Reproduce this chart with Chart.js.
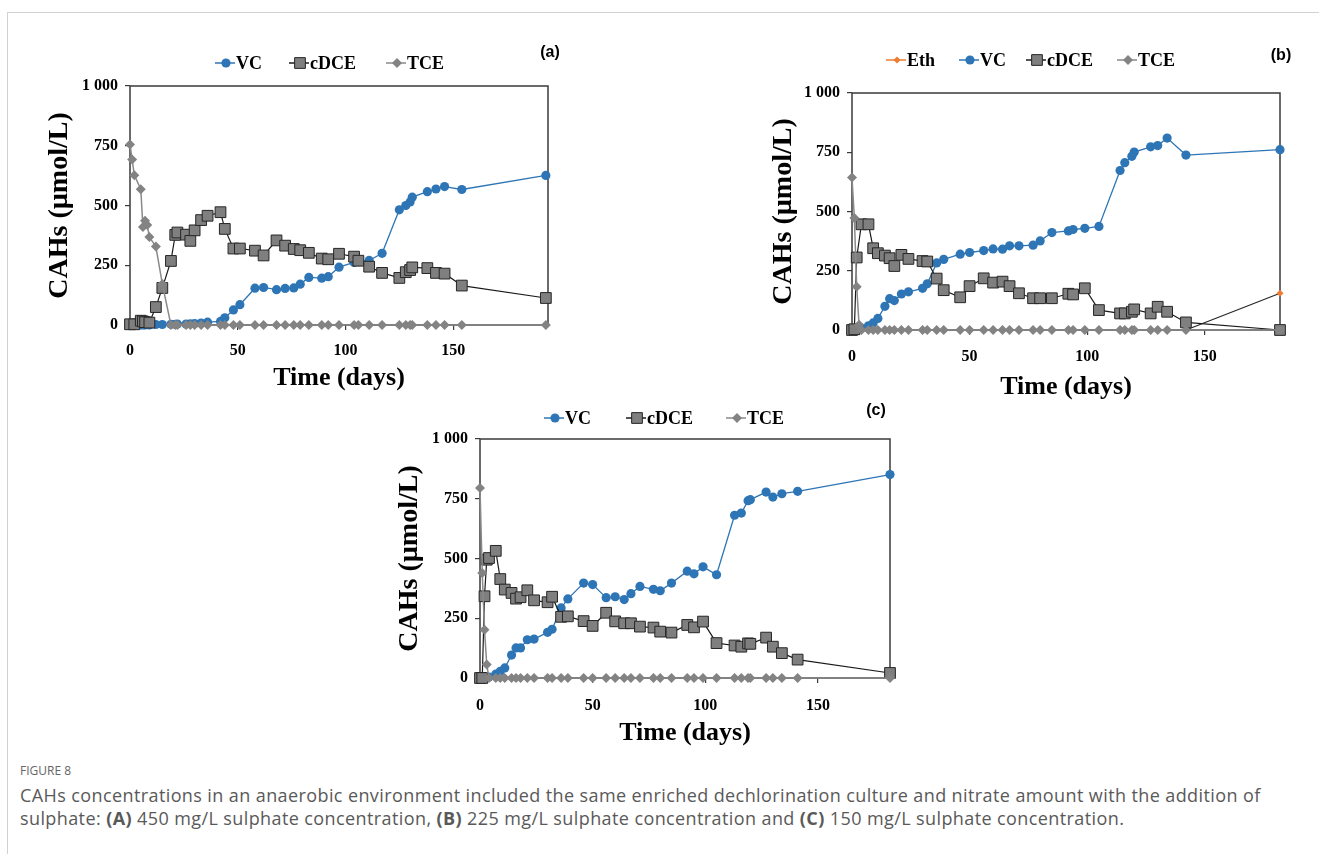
<!DOCTYPE html>
<html lang="en">
<head>
<meta charset="UTF-8">
<title>Figure 8</title>
<script src="https://cdn.jsdelivr.net/npm/chart.js@4.4.0/dist/chart.umd.min.js"></script>
<style>
  body { margin: 0; background: #fff; width: 1319px; height: 854px; position: relative; overflow: hidden; }
  #frame { position: absolute; left: 7px; top: 12px; right: -2px; bottom: -2px; border-left: 1px solid #d2d2d2; border-top: 1px solid #d2d2d2; }
  .panel { position: absolute; }
  #figlabel { position: absolute; left: 20px; top: 762px; font: 12px "Open Sans", sans-serif; color: #666; }
  #caption { position: absolute; left: 20px; top: 784px; font: 18px/23px "Open Sans", sans-serif; letter-spacing: 0.4px; color: #595959; white-space: nowrap; }
</style>
</head>
<body>
<div id="frame"></div>
<canvas id="chartA" class="panel" width="560" height="370" style="left:20px;top:30px"></canvas>
<canvas id="chartB" class="panel" width="560" height="375" style="left:750px;top:30px"></canvas>
<canvas id="chartC" class="panel" width="530" height="360" style="left:380px;top:390px"></canvas>
<div id="figlabel">FIGURE 8</div>
<div id="caption">CAHs concentrations in an anaerobic environment included the same enriched dechlorination culture and nitrate amount with the addition of<br>sulphate: <b>(A)</b> 450 mg/L sulphate concentration, <b>(B)</b> 225 mg/L sulphate concentration and <b>(C)</b> 150 mg/L sulphate concentration.</div>
<script>
// (a) 450 mg/L sulphate
const daysA = [0, 1, 2, 5, 6, 7, 8, 9, 12, 15, 19, 21, 22, 26, 28, 30, 33, 36, 42, 44, 48, 51, 58, 62, 68, 72, 76, 79, 83, 89, 92, 97, 104, 106, 111, 117, 125, 128, 130, 131, 138, 142, 146, 154, 193];
const vcA = [0, null, 0, 0, 0, 0, null, 0, 2, 2, 3, 3, 4, 4, 5, 6, 8, 12, 15, 30, 63, 85, 154, 157, 148, 153, 155, 171, 199, 196, 202, 242, 262, 265, 270, 300, 482, 500, 515, 535, 558, 569, 579, 567, 626];
const cdceA = [3, null, 3, 18, 15, 12, null, 10, 75, 155, 268, 377, 387, 378, 352, 396, 439, 457, 472, 402, 320, 320, 311, 291, 354, 332, 318, 313, 302, 278, 275, 298, 286, 269, 244, 218, 197, 221, 230, 241, 238, 218, 215, 165, 113];
const tceA = [755, 692, 627, 568, 410, 436, 418, 368, 328, 172, 0, 0, 0, 0, 0, 0, 0, 0, 0, 0, 0, 0, 0, 0, 0, 0, 0, 0, 0, 0, 0, 0, 0, 0, 0, 0, 0, 0, 0, 0, 0, 0, 0, 0, 0];

// (b) 225 mg/L sulphate
const daysB = [0, 1, 2, 3, 4, 7, 9, 11, 14, 16, 18, 21, 24, 30, 32, 36, 39, 46, 50, 56, 60, 64, 67, 71, 77, 80, 85, 92, 94, 99, 105, 114, 116, 119, 120, 127, 130, 134, 142, 182];
const ethB = [null, null, null, null, null, null, null, null, null, null, null, null, null, null, null, null, null, null, null, null, null, null, null, null, null, null, null, null, null, null, null, null, null, null, null, null, null, null, 0, 155];
const vcB = [0, null, 0, null, 8, 18, 30, 49, 100, 132, 124, 152, 161, 176, 195, 283, 298, 320, 327, 335, 342, 341, 355, 355, 358, 376, 411, 418, 424, 429, 437, 673, 706, 733, 751, 773, 778, 810, 738, 761];
const cdceB = [0, 3, 306, null, 446, 446, 345, 324, 314, 303, 270, 317, 300, 291, 289, 217, 168, 138, 185, 218, 200, 204, 185, 155, 134, 134, 134, 153, 150, 176, 84, 70, 70, 77, 87, 70, 98, 77, 32, 0];
const tceB = [643, 473, 183, 22, 0, 0, 0, 0, 0, 0, 0, 0, 0, 0, 0, 0, 0, 0, 0, 0, 0, 0, 0, 0, 0, 0, 0, 0, 0, 0, 0, 0, 0, 0, 0, 0, 0, 0, 0, 0];

// (c) 150 mg/L sulphate
const daysC = [0, 1, 2, 3, 4, 7, 9, 11, 14, 16, 18, 21, 24, 30, 32, 36, 39, 46, 50, 56, 60, 64, 67, 71, 77, 80, 85, 92, 95, 99, 105, 113, 116, 119, 120, 127, 130, 134, 141, 182];
const vcC = [0, 0, null, null, 4, 16, 28, 42, 96, 126, 126, 160, 163, 191, 204, 293, 331, 397, 391, 336, 340, 328, 353, 383, 371, 365, 397, 447, 436, 465, 432, 681, 690, 742, 746, 778, 757, 771, 781, 851];
const cdceC = [0, 0, 342, 495, 502, 532, 414, 370, 356, 332, 338, 367, 325, 317, 340, 256, 258, 238, 218, 273, 237, 229, 229, 215, 211, 194, 190, 222, 212, 236, 146, 136, 131, 145, 143, 169, 131, 104, 77, 21];
const tceC = [795, 439, 202, 56, 0, 0, 0, 0, 0, 0, 0, 0, 0, 0, 0, 0, 0, 0, 0, 0, 0, 0, 0, 0, 0, 0, 0, 0, 0, 0, 0, 0, 0, 0, 0, 0, 0, 0, 0, 0];

const yTicks = [0, 250, 500, 750, 1000];
const xTicks = [0, 50, 100, 150];

const serif = '"Liberation Serif", "Times New Roman", serif';

// series look, excel style (higher order = drawn further back)
const looks = {
  Eth:  { borderColor: '#262626', legendLine: '#ED7D31', pointStyle: 'rectRot', pointRadius: 3.5, pointBackgroundColor: '#ED7D31', pointBorderColor: '#ED7D31', pointBorderWidth: 0, borderWidth: 1.2, order: 4 },
  VC:   { borderColor: '#2E75B6', pointStyle: 'circle', pointRadius: 4.6, pointBackgroundColor: '#2E75B6', pointBorderColor: '#2E75B6', pointBorderWidth: 0, borderWidth: 1.3, order: 3 },
  cDCE: { borderColor: '#1a1a1a', pointStyle: 'rect', pointRadius: 7.6, pointBackgroundColor: '#7f7f7f', pointBorderColor: '#262626', pointBorderWidth: 1, borderWidth: 1.2, order: 2 },
  TCE:  { borderColor: '#8a8a8a', pointStyle: 'rectRot', pointRadius: 5, pointBackgroundColor: '#838383', pointBorderColor: '#838383', pointBorderWidth: 0, borderWidth: 1.5, order: 1 }
};

function marker(ctx, st, x, y) {
  const r = st.pointRadius;
  ctx.beginPath();
  if (st.pointStyle === 'circle') {
    ctx.arc(x, y, r, 0, Math.PI * 2);
  } else if (st.pointStyle === 'rect') {
    const h = r * Math.SQRT1_2;
    ctx.rect(x - h, y - h, 2 * h, 2 * h);
  } else {
    ctx.moveTo(x - r, y); ctx.lineTo(x, y - r); ctx.lineTo(x + r, y); ctx.lineTo(x, y + r); ctx.closePath();
  }
  ctx.fillStyle = st.pointBackgroundColor;
  ctx.fill();
  if (st.pointBorderWidth > 0) {
    ctx.lineWidth = st.pointBorderWidth;
    ctx.strokeStyle = st.pointBorderColor;
    ctx.stroke();
  }
}

const plotBox = {
  id: 'plotBox',
  beforeDatasetsDraw(chart) {
    const { ctx, chartArea: a } = chart;
    ctx.save();
    ctx.strokeStyle = '#3a3a3a';
    ctx.lineWidth = 1.5;
    ctx.strokeRect(a.left, a.top, a.right - a.left, a.bottom - a.top);
    ctx.restore();
  }
};

const excelLegend = {
  id: 'excelLegend',
  afterDraw(chart, args, o) {
    const ctx = chart.ctx;
    ctx.save();
    chart.data.datasets.forEach((d, i) => {
      const x = o.xs[i], y = o.y;
      ctx.strokeStyle = d.legendLine || d.borderColor;
      ctx.lineWidth = 1.5;
      ctx.beginPath(); ctx.moveTo(x - 11, y); ctx.lineTo(x + 9, y); ctx.stroke();
      marker(ctx, d, x, y);
      ctx.fillStyle = '#000';
      ctx.font = 'bold 18px ' + serif;
      ctx.textBaseline = 'middle';
      ctx.fillText(d.label, x + 10, y + 1);
    });
    ctx.font = 'bold 16px "Liberation Sans", Arial, sans-serif';
    ctx.textAlign = 'center';
    ctx.textBaseline = 'middle';
    ctx.fillStyle = '#000';
    ctx.fillText(o.tag, o.tagX, o.tagY);
    ctx.restore();
  }
};

function makeChart(id, days, series, L) {
  const datasets = series.map(([name, vals]) => Object.assign({
    label: name,
    data: vals.map((v, i) => ({ x: days[i], y: v })),
    spanGaps: true,
    clip: false,
    tension: 0,
    pointHoverRadius: 0
  }, looks[name]));

  new Chart(document.getElementById(id), {
    type: 'line',
    data: { datasets },
    plugins: [plotBox, excelLegend],
    options: {
      responsive: false,
      animation: false,
      events: [],
      layout: { padding: { top: L.top, right: L.right, left: 0, bottom: 0 } },
      plugins: {
        legend: { display: false },
        tooltip: { enabled: false },
        excelLegend: { xs: L.legendXs, y: L.legendY, tag: L.tag, tagX: L.tagX, tagY: L.tagY }
      },
      scales: {
        x: {
          type: 'linear', min: 0, max: L.xMax,
          afterBuildTicks: s => { s.ticks = xTicks.map(v => ({ value: v })); },
          afterFit: s => { s.height = L.xH; },
          ticks: { color: '#000', font: { family: serif, size: 16, weight: 'bold' }, padding: L.xTickPad, maxRotation: 0 },
          grid: { drawOnChartArea: false, drawTicks: true, tickLength: 5, color: '#3a3a3a', lineWidth: 1.2 },
          border: { display: false },
          title: { display: true, text: 'Time (days)', color: '#000', font: { family: serif, size: 26, weight: 'bold' }, padding: { top: 0, bottom: L.xTitlePad } }
        },
        y: {
          min: 0, max: 1000,
          afterBuildTicks: s => { s.ticks = yTicks.map(v => ({ value: v })); },
          afterFit: s => { s.width = L.yW; },
          ticks: { color: '#000', font: { family: serif, size: 16, weight: 'bold' }, padding: 7,
                   callback: v => v === 1000 ? '1 000' : String(v) },
          grid: { drawOnChartArea: false, drawTicks: true, tickLength: 5, color: '#3a3a3a', lineWidth: 1.2 },
          border: { display: false },
          title: { display: true, text: 'CAHs (µmol/L)', color: '#000', font: { family: serif, size: 28, weight: 'bold' }, padding: { top: L.yTitlePad, bottom: 0 } }
        }
      }
    }
  });
}

makeChart('chartA', daysA, [['VC', vcA], ['cDCE', cdceA], ['TCE', tceA]], {
  top: 56, right: 32, yW: 110, xH: 75, xMax: 194, yTitlePad: 23, xTitlePad: 6, xTickPad: 11,
  legendXs: [206, 280, 377], legendY: 33, tag: '(a)', tagX: 530, tagY: 23
});

makeChart('chartB', daysB, [['Eth', ethB], ['VC', vcB], ['cDCE', cdceB], ['TCE', tceB]], {
  top: 63, right: 30, yW: 102, xH: 75, xMax: 182, yTitlePad: 17, xTitlePad: 2, xTickPad: 12,
  legendXs: [147, 220, 287, 378], legendY: 30, tag: '(b)', tagX: 531, tagY: 26
});

makeChart('chartC', daysC, [['VC', vcC], ['cDCE', cdceC], ['TCE', tceC]], {
  top: 49, right: 20, yW: 100, xH: 72, xMax: 182, yTitlePad: 13, xTitlePad: 1, xTickPad: 13,
  legendXs: [175, 257, 357], legendY: 28, tag: '(c)', tagX: 496, tagY: 21
});
</script>
</body>
</html>
